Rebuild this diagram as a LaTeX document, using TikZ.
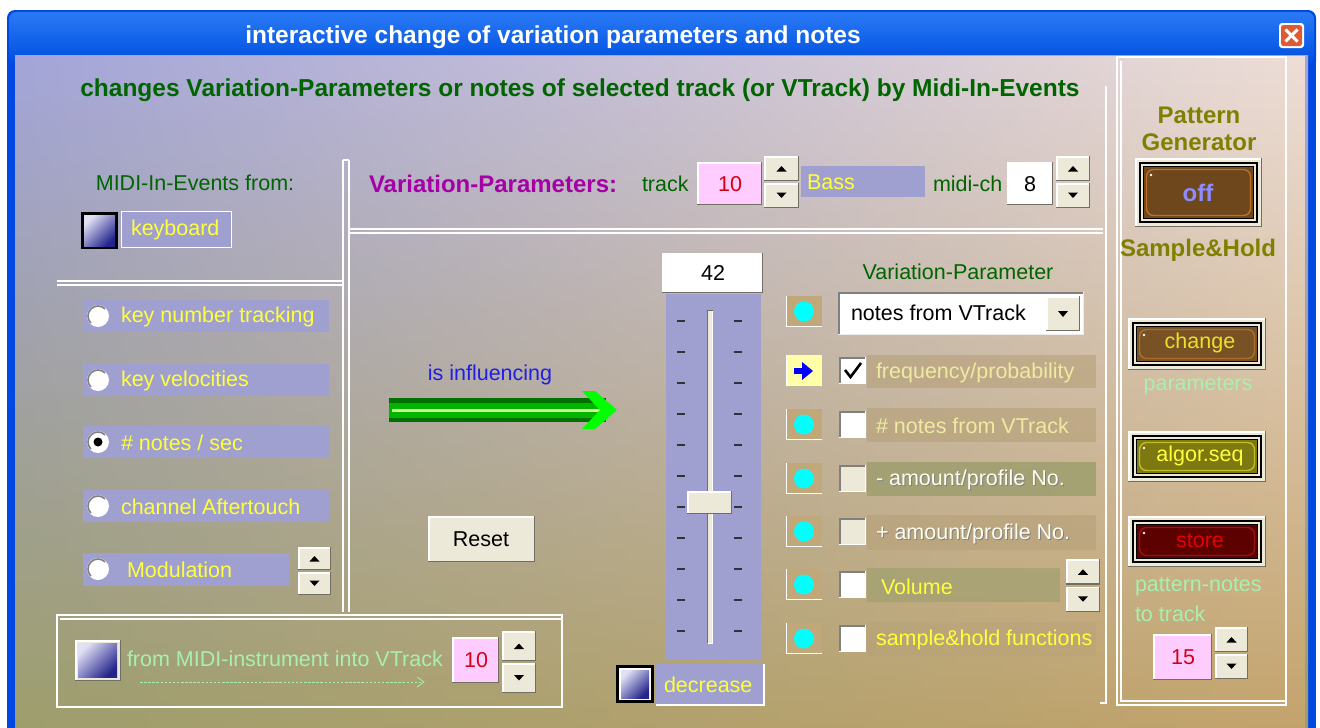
\documentclass[tikz,border=0pt]{standalone}
\usepackage{fontspec}
\setmainfont{Liberation Sans}
\usetikzlibrary{fadings}
\definecolor{tbtop}{RGB}{42,122,246}
\definecolor{tbbot}{RGB}{0,80,224}
\definecolor{winblue}{RGB}{0,72,225}
\definecolor{bgUL}{RGB}{163,165,218}
\definecolor{bgML}{RGB}{160,160,166}
\definecolor{bgUR}{RGB}{238,222,214}
\definecolor{bgMR}{RGB}{214,190,160}
\definecolor{bgLL}{RGB}{158,158,108}
\definecolor{bgLR}{RGB}{196,164,108}
\definecolor{lavbox}{RGB}{160,160,208}
\definecolor{uiyellow}{RGB}{255,255,60}
\definecolor{dkgreen}{RGB}{0,100,0}
\definecolor{vmag}{RGB}{165,0,165}
\definecolor{cream}{RGB}{236,233,216}
\definecolor{shadowc}{RGB}{113,111,100}
\definecolor{pinkbox}{RGB}{255,204,255}
\definecolor{numred}{RGB}{210,0,20}
\definecolor{ltgreen}{RGB}{168,240,176}
\definecolor{olivetxt}{RGB}{128,128,0}
\definecolor{tanind}{RGB}{192,168,122}
\definecolor{tanlbl}{RGB}{182,160,120}
\definecolor{olivelbl}{RGB}{160,160,112}
\definecolor{lightyel}{RGB}{240,234,160}
\definecolor{indyel}{RGB}{255,255,168}
\definecolor{indcyan}{RGB}{0,255,255}
\definecolor{infblue}{RGB}{30,30,230}
\definecolor{blueTL}{RGB}{225,225,245}
\definecolor{blueBR}{RGB}{35,35,140}
\definecolor{arrdk}{RGB}{0,112,0}
\definecolor{arrmid}{RGB}{0,180,0}
\definecolor{arrlt}{RGB}{200,255,140}
\definecolor{arrhead}{RGB}{0,255,0}
\definecolor{closered}{RGB}{226,88,48}
\definecolor{offfill}{RGB}{110,72,28}
\definecolor{offedge}{RGB}{190,110,40}
\definecolor{offtxt}{RGB}{140,140,255}
\definecolor{chgfill}{RGB}{120,82,36}
\definecolor{chgedge}{RGB}{170,110,50}
\definecolor{algfill}{RGB}{125,120,16}
\definecolor{algedge}{RGB}{190,190,40}
\definecolor{stofill}{RGB}{92,0,0}
\definecolor{stoedge}{RGB}{150,20,20}
\definecolor{stotxt}{RGB}{230,0,0}
\definecolor{chgtxt}{RGB}{235,225,40}

\newcommand\uiraised[5][cream]{%
  \fill[#1] (#2,#3) rectangle (#4,#5);
  \draw[white,line width=1.5pt] (#2+.75,#5) -- (#2+.75,#3+.75) -- (#4,#3+.75);
  \draw[shadowc,line width=1.5pt] (#2,#5-.75) -- (#4-.75,#5-.75) -- (#4-.75,#3);
}
\newcommand\uispin[4]{%
  \pgfmathsetmacro\spmid{(#2+#4)/2}%
  \pgfmathsetmacro\spcx{(#1+#3)/2}%
  \pgfmathsetmacro\spup{(#2+\spmid)/2}%
  \pgfmathsetmacro\spdn{(\spmid+#4)/2}%
  \uiraised{#1}{#2}{#3}{\spmid-1}%
  \uiraised{#1}{\spmid+1}{#3}{#4}%
  \fill (\spcx-5,\spup+2.5) -- (\spcx+5,\spup+2.5) -- (\spcx,\spup-3) -- cycle;
  \fill (\spcx-5,\spdn-2.5) -- (\spcx+5,\spdn-2.5) -- (\spcx,\spdn+3) -- cycle;
}
\newcommand\uiblue[4]{%
  \shade[top color=blueTL,bottom color=blueBR,shading angle=45] (#1,#2) rectangle (#3,#4);
}
\newcommand\uiradio[3]{%
  \fill[white] (#1,#2) circle (11);
  \draw[gray,line width=1.6pt] (#1,#2) ++(135:10) arc[start angle=135,end angle=315,radius=10];
  \ifnum#3=1 \fill[black] (#1,#2) circle (4.5);\fi
}
\newcommand\uicheck[3][white]{%
  \fill[#1] (#2,#3) rectangle (#2+27,#3+27);
  \draw[gray,line width=1.5pt] (#2+.75,#3+27) -- (#2+.75,#3+.75) -- (#2+27,#3+.75);
  \draw[white,line width=1.2pt] (#2,#3+26.4) -- (#2+26.4,#3+26.4) -- (#2+26.4,#3);
}
\newcommand\uiind[1]{%
  \fill[tanind] (786,#1) rectangle (822,#1+31);
  \draw[white,line width=1.2pt] (786.6,#1) -- (786.6,#1+30.4) -- (822,#1+30.4);
  \fill[indcyan] (804,#1+15.5) circle (10);
}
\newcommand\uiled[6]{%
  \uiraised{#1}{#2}{#3}{#4}
  \draw[black,line width=1.3pt] (#1+5,#2+5) rectangle (#3-5,#4-5);
  \draw[black,line width=1.3pt] (#1+8.5,#2+8.5) rectangle (#3-8.5,#4-8.5);
  \fill[#5] (#1+9.2,#2+9.2) rectangle (#3-9.2,#4-9.2);
  \draw[#6,line width=1.4pt,rounded corners=7pt] (#1+11.5,#2+11.5) rectangle (#3-11.5,#4-11.5);
  \fill[white] (#1+16,#2+17) circle (1.3);
}

\begin{document}
\begin{tikzpicture}[x=1pt,y=-1pt,
  every node/.style={inner sep=0pt,outer sep=0pt},
  txt/.style={font=\fontsize{21.5}{21.5}\selectfont},
  btxt/.style={font=\bfseries\fontsize{24.5}{24.5}\selectfont},
  bigb/.style={font=\bfseries\fontsize{24}{27}\selectfont},
  yel/.style={txt,text=uiyellow,anchor=west},
  etch/.style={white,line width=1.3pt},
]
\useasboundingbox (0,0) rectangle (1320,728);
\fill[white] (0,0) rectangle (1320,728);
% window frame and title bar
\fill[winblue,rounded corners=8pt] (7,10) rectangle (1316,70);
\fill[winblue] (7,40) rectangle (1316,728);
\shade[top color=tbtop,bottom color=tbbot,rounded corners=7pt] (9,12) rectangle (1314,62);
\shade[top color=bgUL,middle color=bgML,bottom color=bgLL] (15,55) rectangle (1308,728);
\shade[top color=bgUR,middle color=bgMR,bottom color=bgLR,path fading=west] (15,55) rectangle (1308,728);
\node[btxt,text=white] (title) at (553,37) {interactive change of variation parameters and notes};
\fill[white,rounded corners=3pt] (1279,23) rectangle (1304,48);
\fill[closered,rounded corners=2.5pt] (1281,25) rectangle (1302,46);
\draw[white,line width=3pt] (1285.5,29.5) -- (1297.5,41.5) (1297.5,29.5) -- (1285.5,41.5);
\node (close) at (1291.5,35.5) {};

% heading
\node[btxt,text=dkgreen] (head) at (580,90) {changes Variation-Parameters or notes of selected track (or VTrack) by Midi-In-Events};

% separator lines
\draw[etch] (343,160) -- (343,612);
\draw[etch] (349,160) -- (349,612);
\draw[etch] (343,160) -- (349,160);
\draw[etch] (349,229) -- (1103,229);
\draw[etch] (349,233) -- (1103,233);
\draw[etch] (57,281) -- (343,281);
\draw[etch] (57,285) -- (343,285);
\draw[etch] (1106,86) -- (1106,703) -- (1100,703);
% right panel frame
\draw[etch] (1117,57) rectangle (1286,705);
\draw[etch] (1121,61) -- (1121,701) -- (1286,701);
% bottom-left frame
\draw[etch] (57,615) rectangle (562,707);
\draw[etch] (60,619) -- (562,619);

% left: MIDI-In-Events
\node[txt,text=dkgreen] (midiin) at (195,183) {MIDI-In-Events from:};
\fill[black] (81,212) rectangle (118,249);
\uiblue{84}{215}{115}{246}
\fill[lavbox] (121,211) rectangle (231,247);
\draw[white,line width=1pt] (121,211) rectangle (231,247);
\node[yel] (kbd) at (131,230) {keyboard};

% radio rows
\fill[lavbox] (83,300) rectangle (329,332);
\fill[lavbox] (83,364) rectangle (329,396);
\fill[lavbox] (83,426) rectangle (329,458);
\fill[lavbox] (83,490) rectangle (329,522);
\fill[lavbox] (83,553) rectangle (290,586);
\uiradio{98}{316}{0}
\uiradio{98}{380}{0}
\uiradio{98}{442}{1}
\uiradio{98}{506}{0}
\uiradio{98}{569}{0}
\node[yel] (r1) at (121,317) {key number tracking};
\node[yel] (r2) at (121,381) {key velocities};
\node[yel] (r3) at (121,443) {\# notes / sec};
\node[yel] (r4) at (121,507) {channel Aftertouch};
\node[yel] (r5) at (127,570) {Modulation};
\uispin{298}{547}{331}{595}

% bottom-left box
\uiraised{75}{640}{121}{681}
\uiblue{78}{643}{117}{677}
\node[txt,text=ltgreen,anchor=west] (fromvt) at (127,659) {from MIDI-instrument into VTrack};
\draw[ltgreen,line width=0.8pt,dash pattern=on 2.5pt off 1.6pt] (140,682) -- (421,682);
\draw[ltgreen,line width=0.8pt] (417,677) -- (424,682) -- (417,687);
\uiraised[pinkbox]{452}{637}{499}{683}
\node[txt,text=numred] (vt10) at (476,660) {10};
\uispin{502}{631}{536}{693}

% top row
\node[font=\bfseries\fontsize{24}{24}\selectfont,text=vmag,anchor=west] (vp) at (369,184) {Variation-Parameters:};
\node[txt,text=dkgreen,anchor=west] (trk) at (642,184) {track};
\uiraised[pinkbox]{697}{162}{762}{205}
\node[txt,text=numred] (tr10) at (730,184) {10};
\uispin{764}{156}{799}{208}
\fill[lavbox] (801,166) rectangle (925,197);
\node[yel] (bass) at (807,182) {Bass};
\node[txt,text=dkgreen,anchor=west] (mch) at (933,184) {midi-ch};
\uiraised[white]{1007}{162}{1053}{205}
\node[txt] (ch8) at (1030,184) {8};
\uispin{1056}{156}{1090}{208}

% influence arrow
\node[txt,text=infblue] (infl) at (490,375) {is influencing};
\fill[arrdk] (389,398) rectangle (606,422);
\fill[arrmid] (389,402.5) rectangle (604,417.5);
\fill[arrlt] (392,408.5) rectangle (600,411.5);
\fill[arrhead] (582,391) -- (595,391) -- (617,410) -- (595,429) -- (582,429) -- (600,410) -- cycle;

% reset
\uiraised{428}{516}{535}{562}
\node[txt] (reset) at (481,539) {Reset};

% slider
\uiraised[white]{662}{253}{763}{293}
\node[txt] (v42) at (713,273) {42};
\fill[lavbox] (666,294) rectangle (761,660);
\foreach \ty in {321,352,383,414,445,476,507,538,569,600,631}{
  \fill[black!80] (677,\ty-1.2) rectangle (685,\ty+1.2);
  \fill[black!80] (734,\ty-1.2) rectangle (742,\ty+1.2);
}
\fill[cream] (707,310) rectangle (713,643);
\draw[shadowc,line width=1pt] (707.5,643) -- (707.5,310.5) -- (713,310.5);
\draw[white,line width=1pt] (707.5,643) -- (712.5,643) -- (712.5,311);
\uiraised{687}{491}{732}{514}
\fill[black] (616,665) rectangle (654,703);
\fill[white] (619,668) rectangle (651,700);
\uiblue{621}{670}{649}{698}
\fill[lavbox] (656,664) rectangle (764,705);
\draw[white,line width=1.2pt] (656,705) -- (764,705) -- (764,664);
\node[yel] (decr) at (664,685) {decrease};

% variation-parameter list
\node[txt,text=dkgreen] (vparam) at (958,272) {Variation-Parameter};
\uiind{296}
\fill[white] (838,292) rectangle (1084,335);
\draw[gray,line width=1.5pt] (838.75,335) -- (838.75,292.75) -- (1084,292.75);
\draw[white!85!gray,line width=1.5pt] (838,334.25) -- (1083.25,334.25) -- (1083.25,292);
\uiraised{1046}{296}{1080}{331}
\fill (1058,311) -- (1068,311) -- (1063,317) -- cycle;
\node[txt,anchor=west] (dd) at (851,313) {notes from VTrack};

% row 2
\fill[indyel] (786,355) rectangle (822,386);
\draw[white,line width=1.2pt] (786.6,355) -- (786.6,385.4) -- (822,385.4);
\fill[blue] (794,368) rectangle (803,374);
\fill[blue] (802,362) -- (813,371) -- (802,380) -- cycle;
\fill[tanlbl,opacity=0.6] (867,355) rectangle (1096,388);
\uicheck{839}{357}
\draw[black,line width=2.6pt] (845,370) -- (850.5,377) -- (861,363);
\node[txt,text=lightyel,anchor=west] (l2) at (876,373) {frequency/probability};

% row 3
\uiind{409}
\fill[tanlbl,opacity=0.6] (867,408) rectangle (1096,442);
\uicheck{839}{411}
\node[txt,text=lightyel,anchor=west] (l3) at (876,426) {\# notes from VTrack};

% row 4
\uiind{463}
\fill[olivelbl,opacity=0.9] (867,462) rectangle (1096,496);
\uicheck[cream]{839}{465}
\node[txt,text=gray,anchor=west] at (877,481) {- amount/profile No.};
\node[txt,text=white!94!yellow,anchor=west] (l4) at (876,480) {- amount/profile No.};

% row 5
\uiind{516}
\fill[tanlbl,opacity=0.6] (867,515) rectangle (1096,550);
\uicheck[cream]{839}{518}
\node[txt,text=gray,anchor=west] at (877,535) {+ amount/profile No.};
\node[txt,text=white!94!yellow,anchor=west] (l5) at (876,534) {+ amount/profile No.};

% row 6
\uiind{569}
\fill[olivelbl,opacity=0.7] (867,568) rectangle (1060,602);
\uicheck{839}{571}
\node[txt,text=uiyellow,anchor=west] (l6) at (881,587) {Volume};
\uispin{1066}{559}{1100}{612}

% row 7
\uiind{623}
\fill[tanlbl,opacity=0.35] (867,622) rectangle (1096,656);
\uicheck{839}{625}
\node[txt,text=uiyellow,anchor=west] (l7) at (876,640) {sample\&hold functions};

% right panel
\node[bigb,text=olivetxt,align=center] (pg) at (1199,129) {Pattern\\Generator};
\uiled{1135}{158}{1262}{227}{offfill}{offedge}
\node[bigb,text=offtxt] (off) at (1198,193) {off};
\node[bigb,text=olivetxt] (sh) at (1198,250) {Sample\&Hold};
\uiled{1128}{318}{1266}{370}{chgfill}{chgedge}
\node[txt,text=chgtxt] (chg) at (1200,343) {change};
\node[txt,text=ltgreen] (par) at (1198,386) {parameters};
\uiled{1128}{431}{1266}{482}{algfill}{algedge}
\node[txt,text=uiyellow] (alg) at (1200,456) {algor.seq};
\uiled{1128}{516}{1266}{567}{stofill}{stoedge}
\node[txt,text=stotxt] (sto) at (1200,541) {store};
\node[txt,text=ltgreen,anchor=west] (pn) at (1135,587) {pattern-notes};
\node[txt,text=ltgreen,anchor=west] (tt) at (1135,614) {to track};
\uiraised[pinkbox]{1153}{634}{1212}{680}
\node[txt,text=numred] (n15) at (1183,657) {15};
\uispin{1215}{627}{1248}{679}
\end{tikzpicture}
\end{document}
